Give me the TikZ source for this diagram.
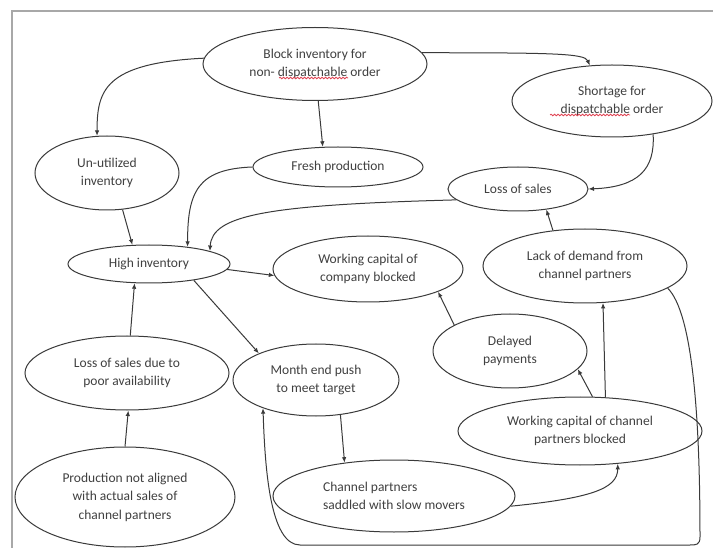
\documentclass[tikz,border=0pt]{standalone}
\usepackage{fontspec}
\setmainfont{Carlito}
\usetikzlibrary{shapes.geometric,arrows.meta,decorations.pathmorphing,calc}
\definecolor{linec}{HTML}{3A3A3A}
\definecolor{textc}{HTML}{404040}
\definecolor{framec}{HTML}{A8A8A8}
\definecolor{spellc}{HTML}{E04050}
\begin{document}
\begin{tikzpicture}[x=1pt,y=-1pt,
  bub/.style={draw=linec, line width=1pt, ellipse, inner sep=0pt, align=center,
    text=textc, font=\fontsize{13.5}{18.5}\selectfont},
  arr/.style={draw=linec, line width=1pt, -{Latex[length=5.5pt,width=4.5pt]}},
  spell/.style={draw=spellc, line width=0.8pt, decorate,
    decoration={snake, amplitude=0.8pt, segment length=3.5pt}}]
\useasboundingbox (0,0) rectangle (713,548);
\fill[white] (0,0) rectangle (713,548);
\draw[framec, line width=2pt] (713,11) -- (12,11) -- (12,548);

\node[bub, minimum width=224, minimum height=73] (block) at (315,64) {Block inventory for\\non- dispatchable order};
\node[bub, minimum width=200, minimum height=72] (short) at (612,101) {Shortage for\\dispatchable order};
\node[bub, minimum width=144, minimum height=74] (unutil) at (107,173) {Un-utilized\\inventory};
\node[bub, minimum width=170, minimum height=40] (fresh) at (338,167) {Fresh production};
\node[bub, minimum width=140, minimum height=44] (loss) at (518,189) {Loss of sales};
\node[bub, minimum width=162, minimum height=38] (high) at (149,264) {High inventory};
\node[bub, minimum width=190, minimum height=66] (wccomp) at (368,269) {Working capital of\\company blocked};
\node[bub, minimum width=204, minimum height=74] (lack) at (585,266) {Lack of demand from\\channel partners};
\node[bub, minimum width=154, minimum height=74] (delay) at (510,351) {Delayed\\payments};
\node[bub, minimum width=204, minimum height=74] (lossdue) at (127,373) {Loss of sales due to\\poor availability};
\node[bub, minimum width=166, minimum height=72] (month) at (316,380) {Month end push\\to meet target};
\node[bub, minimum width=244, minimum height=68] (wcchan) at (580,431) {Working capital of channel\\partners blocked};
\node[bub, minimum width=220, minimum height=100] (prod) at (125,497) {Production not aligned\\with actual sales of\\channel partners};
\node[bub, align=left, minimum width=242, minimum height=72] (saddle) at (394,496) {Channel partners\\saddled with slow movers};

\draw[spell] ($(block.center)+(-36,14)$) -- ($(block.center)+(33,14)$);
\draw[spell] ($(short.center)+(-62,14)$) -- ($(short.center)+(18,14)$);

\draw[arr] (block.177) .. controls +(-100,5) and +(0,-45) .. (unutil.105);
\draw[arr] (block.-85) -- (fresh.127);
\draw[arr] (block.6) .. controls +(130,0) and +(-5,-12) .. (short.122);
\draw[arr] (short.-39) .. controls +(2,35) and +(50,-2) .. (loss.east);
\draw[arr] (loss.-170) .. controls +(-190,5) and +(2,-36) .. (high.12);
\draw[arr] (fresh.west) .. controls +(-55,2) and +(0,-55) .. (high.24);
\draw[arr] (unutil.-67) -- (high.131);
\draw[arr] (high.-4) -- (wccomp.184);
\draw[arr] (high.-20) -- (month.155);
\draw[arr] (lossdue.85) -- (high.-127);
\draw[arr] (prod.north) -- (lossdue.-88);
\draw[arr] (month.-55) -- (saddle.146);
\draw[arr] (saddle.-5) .. controls +(80,-8) and +(0,25) .. (wcchan.-41);
\draw[arr] (wcchan.70) -- (delay.-15);
\draw[arr] (wcchan.53) -- (lack.-64);
\draw[arr] (delay.155) -- (wccomp.-18);
\draw[arr] (lack.132) -- (loss.-36);
\coordinate (rb) at (700,537);
\coordinate (bm) at (690,545);
\coordinate (lb) at (300,545);
\draw[arr] (lack.-15) .. controls +(25,25) and +(0,-120) .. (rb)
  .. controls +(0,8) and +(6,0) .. (bm) -- (lb)
  .. controls +(-30,0) and +(2,60) .. (month.-152);
\end{tikzpicture}
\end{document}
